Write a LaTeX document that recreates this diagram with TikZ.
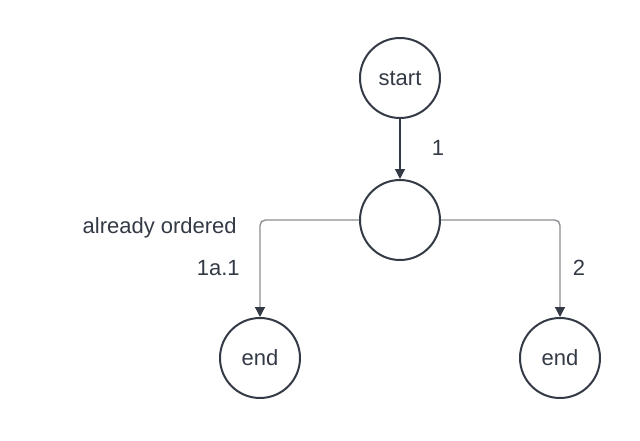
\documentclass[tikz,border=0pt]{standalone}
\usepackage{fontspec}
\setmainfont{Liberation Sans}
\usetikzlibrary{arrows.meta}
\definecolor{ink}{HTML}{333A45}
\definecolor{wire}{HTML}{8A8D91}
\tikzset{
	state/.style={circle, draw=ink, line width=1.5pt, minimum size=60pt, inner sep=0pt, text=ink, font=\fontsize{16.5}{18}\selectfont},
	txt/.style={text=ink, font=\fontsize{16.5}{18}\selectfont, inner sep=0pt},
	tip/.style={-{Triangle[length=7.5pt, width=7.5pt, color=ink]}}
}

\begin{document}
\begin{tikzpicture}[x=0.75pt, y=-0.75pt]
		\useasboundingbox (0,0) rectangle (640,440);
		\node (start)[state] at (400,78) {start};
		\node (mid)[state] at (400,220) {};
		\node (endl)[state] at (260,358) {end};
		\node (endr)[state] at (560,358) {end};

		\draw [tip, draw=ink, line width=1pt](start) -- (mid);
		\node (one)[txt] at (438,148) {1};

		\draw [tip, draw=wire, line width=1pt, rounded corners=4pt](mid.west) -| (endl.north);
		\node (done)[txt, anchor=east] at (237,228) {already ordered};
		\node (sub)[txt, anchor=east] at (240,268) {1a.1};

		\draw [tip, draw=wire, line width=1pt, rounded corners=4pt](mid.east) -| (endr.north);
		\node (two)[txt] at (579,268) {2};
	\end{tikzpicture}
\end{document}
